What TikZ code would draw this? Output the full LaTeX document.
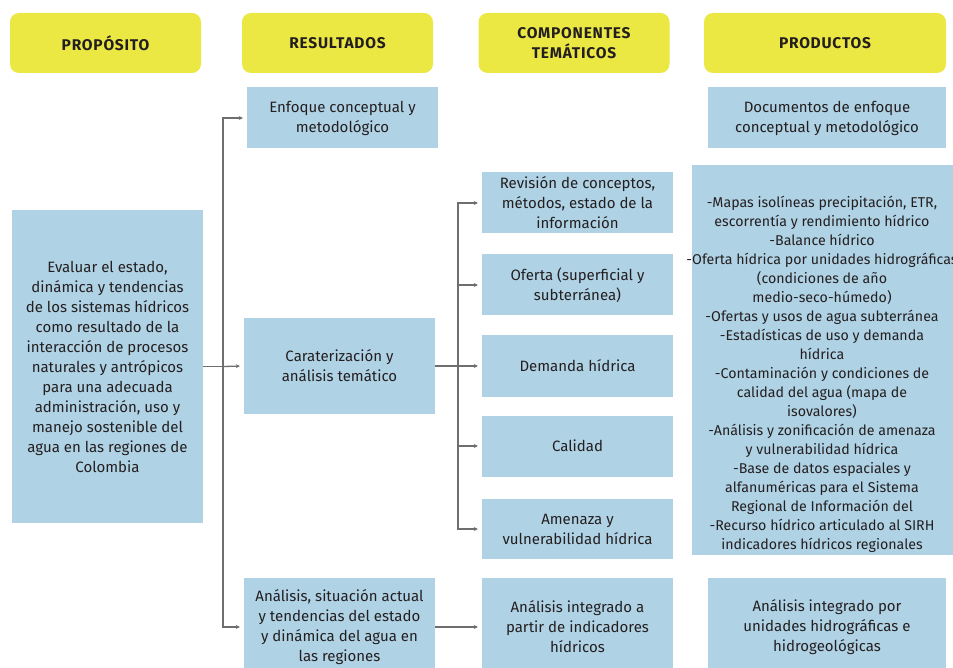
\documentclass[tikz,border=0pt]{standalone}
\usepackage{fontspec}
\setmainfont{Fira Sans}
\usetikzlibrary{arrows.meta}
\definecolor{amarillo}{RGB}{235,232,67}
\definecolor{azul}{RGB}{176,210,229}
\definecolor{gris}{RGB}{110,110,110}
\definecolor{texto}{RGB}{35,31,32}
\begin{document}
\begin{tikzpicture}[x=1pt,y=-1pt,
  titulo/.style={fill=amarillo, rounded corners=9pt, minimum width=191pt, minimum height=60pt,
    inner sep=0pt, align=center, text=texto,
    font=\fontsize{15.5}{20}\selectfont\bfseries\addfontfeature{LetterSpace=5}},
  caja/.style={fill=azul, minimum width=191pt, inner sep=0pt, align=center, text=texto,
    font=\fontsize{15}{20}\selectfont},
  linea/.style={draw=gris, line width=1.3pt},
  flecha/.style={linea, -{Stealth[length=4pt,width=4pt]}, shorten >=4pt}]
\useasboundingbox (0,0) rectangle (953,668);
% encabezados
\node[titulo] (proposito) at (105.5,43) {PROPÓSITO};
\node[titulo] (resultados) at (337.5,43) {RESULTADOS};
\node[titulo] (componentes) at (574,43) {COMPONENTES\\TEMÁTICOS};
\node[titulo, minimum width=242pt] (productos) at (825,43) {PRODUCTOS};
% proposito
\node[caja, minimum height=313pt] (evaluar) at (107.5,366.5) {Evaluar el estado,\\dinámica y tendencias\\de los sistemas hídricos\\como resultado de la\\interacción de procesos\\naturales y antrópicos\\para una adecuada\\administración, uso y\\manejo sostenible del\\agua en las regiones de\\Colombia};
% resultados
\node[caja, minimum height=61pt] (enfoque) at (342.5,118) {Enfoque conceptual y\\metodológico};
\node[caja, minimum height=95pt] (caracterizacion) at (339.5,366) {Caraterización y\\análisis temático};
\node[caja, minimum height=98pt] (situacion) at (339.5,627) {Análisis, situación actual\\y tendencias del estado\\y dinámica del agua en\\las regiones};
% componentes
\node[caja, minimum height=61pt] (revision) at (577.5,203) {Revisión de conceptos,\\métodos, estado de la\\información};
\node[caja, minimum height=61pt] (oferta) at (577.5,285) {Oferta (superficial y\\subterránea)};
\node[caja, minimum height=62pt] (demanda) at (577.5,366) {Demanda hídrica};
\node[caja, minimum height=61pt] (calidad) at (577.5,446) {Calidad};
\node[caja, minimum height=60pt] (amenaza) at (577.5,529) {Amenaza y\\vulnerabilidad hídrica};
\node[caja, minimum height=98pt] (integradoA) at (577.5,627) {Análisis integrado a\\partir de indicadores\\hídricos};
% productos
\node[caja, minimum width=238pt, minimum height=61pt] (documentos) at (827,118) {Documentos de enfoque\\conceptual y metodológico};
\node[caja, minimum width=268pt, minimum height=390pt] (listado) at (826,360) {};
\node[align=center, text=texto, inner sep=0pt, font=\fontsize{14.2}{19}\selectfont] (listadotexto) at (822,374) {-Mapas isolíneas precipitación, ETR,\\escorrentía y rendimiento hídrico\\-Balance hídrico\\-Oferta hídrica por unidades hidrográficas\\(condiciones de año\\medio-seco-húmedo)\\-Ofertas y usos de agua subterránea\\-Estadísticas de uso y demanda\\hídrica\\-Contaminación y condiciones de\\calidad del agua (mapa de\\isovalores)\\-Análisis y zonificación de amenaza\\y vulnerabilidad hídrica\\-Base de datos espaciales y\\alfanuméricas para el Sistema\\Regional de Información del\\-Recurso hídrico articulado al SIRH\\indicadores hídricos regionales};
\node[caja, minimum width=238pt, minimum height=98pt] (integradoB) at (827,627) {Análisis integrado por\\unidades hidrográficas e\\hidrogeológicas};
% conectores
\coordinate (t1) at (223,366.5);
\draw[linea] (evaluar.east) -- (t1);
\draw[flecha] (t1) |- (enfoque.west);
\draw[flecha] (t1) -- (caracterizacion.west);
\draw[flecha] (t1) |- (situacion.west);
\coordinate (t2) at (458,366);
\draw[linea] (caracterizacion.east) -- (t2);
\foreach \n in {revision,oferta,demanda,calidad,amenaza}
  \draw[flecha] (t2) |- (\n.west);
\draw[flecha] (situacion.east) -- (integradoA.west);
\end{tikzpicture}
\end{document}
